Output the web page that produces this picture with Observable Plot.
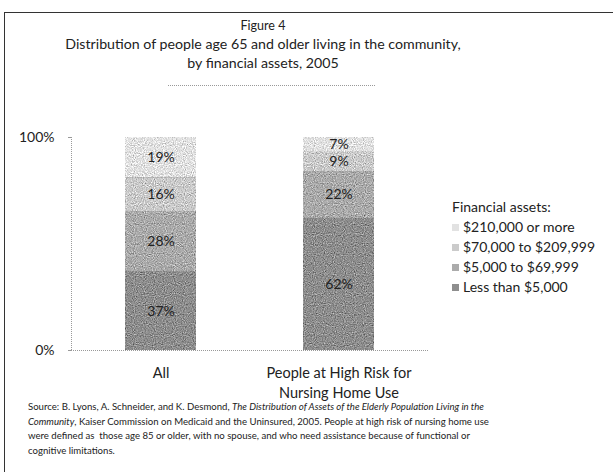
<!DOCTYPE html>
<html>
<head>
<meta charset="utf-8">
<script src="https://cdn.jsdelivr.net/npm/d3@7"></script>
<script src="https://cdn.jsdelivr.net/npm/@observablehq/plot@0.6"></script>
<style>
  html, body { margin: 0; padding: 0; background: #fff; }
  body { font-family: Lato, "Open Sans", sans-serif; color: #222; }
  #wrap { position: relative; width: 613px; height: 472px; overflow: hidden; }
  #border { position: absolute; left: 4px; top: 12px; width: 620px; height: 470px;
            border-top: 1px solid #333; border-left: 1px solid #333; }
  #title { position: absolute; left: 33px; width: 460px; top: 17px; text-align: center; }
  #title .fig { font-size: 12.5px; line-height: 17px; }
  #title .main { font-size: 14.2px; line-height: 19px; }
  #sep { position: absolute; left: 168px; width: 207px; top: 85px; border-top: 1px dotted #999; }
  #chart { position: absolute; left: 0; top: 0; }
  #legend { position: absolute; left: 452px; top: 197px; font-size: 14px; }
  #legend .row { height: 20px; line-height: 20px; white-space: nowrap; }
  #legend .sw { display: inline-block; width: 7px; height: 7px; margin-right: 4px; vertical-align: 1px; }
  #source { position: absolute; left: 28px; top: 400px; font-size: 9.6px; line-height: 14.5px; white-space: nowrap; }
</style>
</head>
<body>
<div id="wrap">
  <div id="border"></div>
  <div id="title"></div>
  <div id="sep"></div>
  <div id="chart"></div>
  <div id="legend"></div>
  <div id="source"></div>
</div>
<script>
// ---- data ----
const figureLabel = "Figure 4";
const titleLines = ["Distribution of people age 65 and older living in the community,", "by financial assets, 2005"];
const groups = ["All", "People at High Risk for\nNursing Home Use"];
const brackets = ["Less than $5,000", "$5,000 to $69,999", "$70,000 to $209,999", "$210,000 or more"];
const allValues = [37, 28, 16, 19];
const highRiskValues = [62, 22, 9, 7];
const bracketColors = ["#8e8e8e", "#ababab", "#cbcbcb", "#e2e2e2"];
const yTicks = [0, 100];
const legendTitle = "Financial assets:";
const sourceLines = [
  'Source: B. Lyons, A. Schneider, and K. Desmond, <i>The Distribution of Assets of the Elderly Population Living in the</i>',
  '<i>Community</i>, Kaiser Commission on Medicaid and the Uninsured, 2005. People at high risk of nursing home use',
  'were defined as&nbsp; those age 85 or older, with no spouse, and who need assistance because of functional or',
  'cognitive limitations.'
];

// build table
const rows = [];
[allValues, highRiskValues].forEach((vals, gi) => {
  vals.forEach((v, bi) => rows.push({group: groups[gi], bracket: brackets[bi], value: v}));
});

const W = 613, H = 472, mL = 71, mR = 185, mT = 137, mB = 122;
const chart = Plot.plot({
  width: W,
  height: H,
  marginLeft: mL,
  marginRight: mR,
  marginTop: mT,
  marginBottom: mB,
  style: {fontFamily: "Lato, 'Open Sans', sans-serif", fontSize: "13px", color: "#222", background: "transparent"},
  x: {domain: groups, paddingInner: 0.6, paddingOuter: 0.3, axis: null},
  y: {domain: [0, 100], axis: null},
  color: {domain: brackets, range: bracketColors},
  marks: [
    Plot.barY(rows, Plot.stackY({x: "group", y: "value", z: "bracket", fill: "bracket", order: brackets})),
    Plot.text(rows, Plot.stackY({x: "group", y: "value", z: "bracket", order: brackets, text: d => d.value + "%", fontSize: 14, fill: "#222"})),
    Plot.ruleY([0], {stroke: "#999", strokeDasharray: "1,1"}),
    // left axis line (drawn at the frame's left edge)
    Plot.ruleX([0], {x: null, y1: 0, y2: 100, dx: -(W - mL - mR) / 2, stroke: "#999", strokeDasharray: "1,1"}),
    Plot.axisY({ticks: yTicks, tickFormat: d => d + "%", tickSize: 3, tickPadding: 14, stroke: "#999", fill: "#222", fontSize: 14, label: null}),
    Plot.text(groups, {x: d => d, text: d => d, frameAnchor: "bottom", lineAnchor: "top", dy: 14, lineHeight: 1.35, fontSize: 14.5, fill: "#222"})
  ]
});
document.getElementById("chart").appendChild(chart);

// grain like the scanned original
const svg = d3.select(chart);
const defs = svg.insert("defs", ":first-child");
const f = defs.append("filter").attr("id", "grain").attr("x", 0).attr("y", 0).attr("width", 1).attr("height", 1)
  .attr("color-interpolation-filters", "sRGB");
f.append("feTurbulence").attr("type", "fractalNoise").attr("baseFrequency", 0.9).attr("numOctaves", 1).attr("seed", 4).attr("result", "n");
f.append("feColorMatrix").attr("in", "n").attr("type", "matrix")
  .attr("values", "0.33 0.33 0.33 0 0  0.33 0.33 0.33 0 0  0.33 0.33 0.33 0 0  0 0 0 0 1").attr("result", "g");
f.append("feComposite").attr("in", "SourceGraphic").attr("in2", "g").attr("operator", "arithmetic")
  .attr("k1", 0).attr("k2", 1).attr("k3", 1.2).attr("k4", -0.6).attr("result", "c");
f.append("feComposite").attr("in", "c").attr("in2", "SourceAlpha").attr("operator", "in");
svg.selectAll("g[aria-label='bar']").attr("filter", "url(#grain)");

// title
document.getElementById("title").innerHTML =
  `<div class="fig">${figureLabel}</div>` + titleLines.map(t => `<div class="main">${t}</div>`).join("");

// legend (top of stack first)
const leg = document.getElementById("legend");
leg.innerHTML = `<div class="row">${legendTitle}</div>` +
  brackets.map((b, i) => ({b, c: bracketColors[i]})).reverse()
    .map(o => `<div class="row"><span class="sw" style="background:${o.c}"></span>${o.b}</div>`).join("");

document.getElementById("source").innerHTML = sourceLines.join("<br>");
</script>
</body>
</html>
